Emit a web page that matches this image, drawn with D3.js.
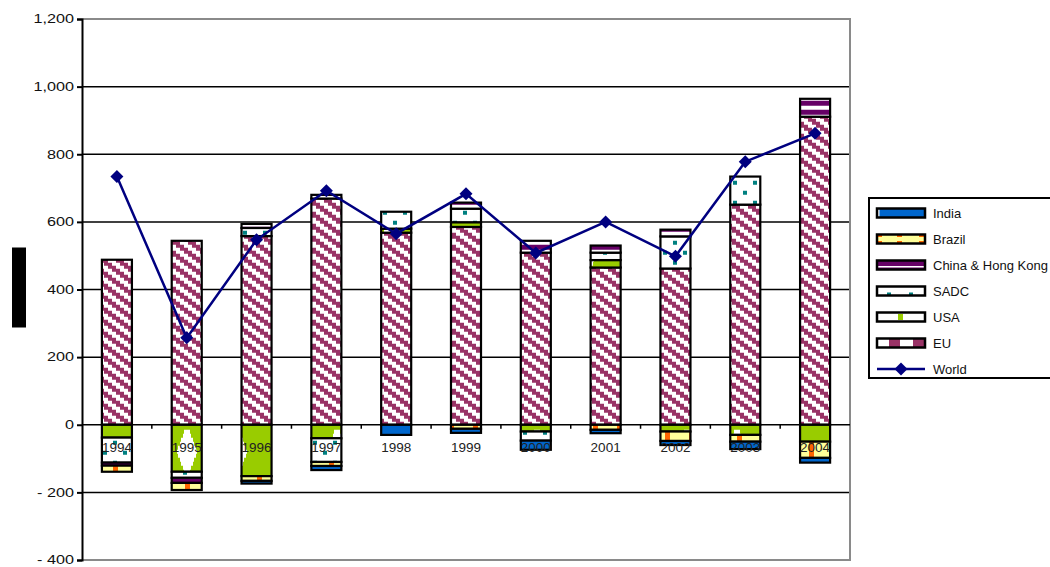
<!DOCTYPE html>
<html>
<head>
<meta charset="utf-8">
<script src="https://cdn.jsdelivr.net/npm/d3@7"></script>
<style>
  html, body { margin: 0; padding: 0; background: #fff; }
  svg { display: block; font-family: "Liberation Sans", Arial, sans-serif; }
</style>
</head>
<body>
<svg id="chart" width="1050" height="567"></svg>
<script>
// Trade balance by partner, 1994–2004
const years = ["1994","1995","1996","1997","1998","1999","2000","2001","2002","2003","2004"];
const seriesNames = ["EU","USA","SADC","China & Hong Kong","Brazil","India"];
const euValues     = [488, 544, 558, 669, 568, 585, 509, 465, 462, 651, 911];
const usaValues    = [-38, -139, -152, -40, 12, 14, -20, 22, -20, -30, -50];
const sadcValues   = [-74, -18, 24, -70, 50, 40, -27, 22, 95, 83, 0];
const chinaValues  = [-9, -15, 12, 11, 0, 18, 35, 21, 20, 0, 53];
const brazilValues = [-18, -21, -14, -12, 0, -12, 0, -15, -28, -20, -48];
const indiaValues  = [0, 0, -8, -12, -30, -12, -27, -10, -12, -22, -14];
const worldValues  = [734, 257, 547, 692, 565, 683, 508, 600, 498, 778, 862];
const yTicks = [-400, -200, 0, 200, 400, 600, 800, 1000, 1200];
const legendNames = ["India","Brazil","China & Hong Kong","SADC","USA","EU","World"];

const svg = d3.select("#chart");
const plotLeft = 82, plotRight = 850, plotTop = 19, plotBottom = 560;

const rows = years.map((yr, i) => ({
  year: yr,
  "EU": euValues[i],
  "USA": usaValues[i],
  "SADC": sadcValues[i],
  "China & Hong Kong": chinaValues[i],
  "Brazil": brazilValues[i],
  "India": indiaValues[i]
}));

const x = d3.scaleBand().domain(years).range([plotLeft, plotRight])
  .paddingInner(0.57).paddingOuter(0.285);
const y = d3.scaleLinear().domain([-400, 1200]).range([plotBottom, plotTop]);

// ---------- fill patterns ----------
const defs = svg.append("defs");
const y0 = y(0);

// EU: purple staircase diagonal stripes
const pEU = defs.append("pattern").attr("id", "pEU").attr("patternUnits", "userSpaceOnUse")
  .attr("width", 16).attr("height", 12).attr("x", 0).attr("y", y0);
pEU.append("rect").attr("width", 16).attr("height", 12).attr("fill", "#fff");
for (let s = 0; s < 4; s++) {
  for (let k = -1; k <= 1; k++) {
    pEU.append("rect").attr("x", s * 4 + k * 16).attr("y", s * 3).attr("width", 8).attr("height", 3)
      .attr("fill", "#993366").attr("shape-rendering", "crispEdges");
  }
}

// USA: green with large white stepped diamonds
const pUSA = defs.append("pattern").attr("id", "pUSA").attr("patternUnits", "userSpaceOnUse")
  .attr("width", 50).attr("height", 50).attr("x", 12).attr("y", y0);
pUSA.append("rect").attr("width", 50).attr("height", 50).attr("fill", "#99CC00");
for (let r = 0; r < 11; r++) {
  const half = Math.min(r, 10 - r) * 1.4 + 3;
  pUSA.append("rect").attr("x", 25 - half).attr("y", 5 + r * 4).attr("width", half * 2).attr("height", 4)
    .attr("fill", "#fff").attr("shape-rendering", "crispEdges");
}

// SADC: white with teal squares
const pSADC = defs.append("pattern").attr("id", "pSADC").attr("patternUnits", "userSpaceOnUse")
  .attr("width", 20).attr("height", 20).attr("x", 0).attr("y", y0);
pSADC.append("rect").attr("width", 20).attr("height", 20).attr("fill", "#fff");
pSADC.append("rect").attr("x", 3).attr("y", 6).attr("width", 4).attr("height", 4).attr("fill", "#008080");
pSADC.append("rect").attr("x", 13).attr("y", 16).attr("width", 4).attr("height", 4).attr("fill", "#008080");

// China & Hong Kong: purple with white bands
const pCHN = defs.append("pattern").attr("id", "pCHN").attr("patternUnits", "userSpaceOnUse")
  .attr("width", 8).attr("height", 9).attr("x", 0).attr("y", y0);
pCHN.append("rect").attr("width", 8).attr("height", 9).attr("fill", "#660066");
pCHN.append("rect").attr("y", 5).attr("width", 8).attr("height", 4).attr("fill", "#fff");

// Brazil: pale yellow with orange blocks
const pBRA = defs.append("pattern").attr("id", "pBRA").attr("patternUnits", "userSpaceOnUse")
  .attr("width", 24).attr("height", 24).attr("x", 0).attr("y", y0);
pBRA.append("rect").attr("width", 24).attr("height", 24).attr("fill", "#FFFF99");
pBRA.append("rect").attr("x", 17).attr("y", 0).attr("width", 5).attr("height", 24).attr("fill", "#FF6600");

const fills = {
  "EU": "url(#pEU)",
  "USA": "url(#pUSA)",
  "SADC": "url(#pSADC)",
  "China & Hong Kong": "url(#pCHN)",
  "Brazil": "url(#pBRA)",
  "India": "#0066CC"
};

// ---------- gridlines ----------
svg.append("g").selectAll("line")
  .data(yTicks.filter(v => v > -400 && v < 1200 && v !== 0))
  .join("line")
  .attr("x1", plotLeft).attr("x2", plotRight)
  .attr("y1", d => y(d)).attr("y2", d => y(d))
  .attr("stroke", "#000").attr("stroke-width", 1.5);

// plot frame (top, right, bottom)
svg.append("path")
  .attr("d", `M${plotLeft},${plotTop} H${plotRight} V${plotBottom} H${plotLeft}`)
  .attr("fill", "none").attr("stroke", "#8a8a8a").attr("stroke-width", 2);

// ---------- stacked bars ----------
const stack = d3.stack().keys(seriesNames).offset(d3.stackOffsetDiverging);
const stacked = stack(rows);

svg.append("g").selectAll("g")
  .data(stacked)
  .join("g")
  .attr("fill", d => fills[d.key])
  .selectAll("rect")
  .data(d => d.filter(s => s[1] !== s[0]))
  .join("rect")
  .attr("x", d => x(d.data.year))
  .attr("width", x.bandwidth())
  .attr("y", d => y(Math.max(d[0], d[1])))
  .attr("height", d => Math.abs(y(d[0]) - y(d[1])))
  .attr("stroke", "#000").attr("stroke-width", 2.2);

// ---------- axes ----------
const fmt = d3.format(",");
const yAxis = svg.append("g").attr("transform", `translate(${plotLeft},0)`)
  .call(d3.axisLeft(y).tickValues(yTicks).tickSize(5).tickPadding(3)
    .tickFormat(v => v < 0 ? "- " + fmt(-v) : fmt(v)));
yAxis.select(".domain").attr("stroke", "#000").attr("stroke-width", 2);
yAxis.selectAll(".tick line").attr("stroke", "#000").attr("stroke-width", 2);
yAxis.selectAll(".tick text")
  .attr("fill", "#111").attr("font-size", 12)
  .attr("font-family", "'Liberation Sans', Arial, sans-serif")
  .attr("x", -8 / 1.35).attr("transform", "scale(1.35,1)");

// zero line with category separators
svg.append("line").attr("x1", plotLeft).attr("x2", plotRight)
  .attr("y1", y0).attr("y2", y0).attr("stroke", "#000").attr("stroke-width", 1.5);
svg.append("g").selectAll("line")
  .data(years.slice(1))
  .join("line")
  .attr("x1", d => x(d) - x.step() * x.paddingInner() / 2)
  .attr("x2", d => x(d) - x.step() * x.paddingInner() / 2)
  .attr("y1", y0).attr("y2", y0 + 4)
  .attr("stroke", "#000").attr("stroke-width", 1.5);

// category labels
svg.append("g").selectAll("text")
  .data(years)
  .join("text")
  .attr("x", d => x(d) + x.bandwidth() / 2)
  .attr("y", y0 + 27)
  .attr("text-anchor", "middle")
  .attr("font-size", 13.5)
  .attr("fill", "#222")
  .text(d => d);

// ---------- World line ----------
const line = d3.line()
  .x((d, i) => x(years[i]) + x.bandwidth() / 2)
  .y(d => y(d));
svg.append("path").datum(worldValues)
  .attr("d", line)
  .attr("fill", "none").attr("stroke", "#000080").attr("stroke-width", 2.5);
const diamond = "M0,-6.5 L6.5,0 L0,6.5 L-6.5,0 Z";
svg.append("g").selectAll("path")
  .data(worldValues)
  .join("path")
  .attr("transform", (d, i) => `translate(${x(years[i]) + x.bandwidth() / 2},${y(d)})`)
  .attr("d", diamond)
  .attr("fill", "#000080");

// ---------- y-axis title ----------
const titleG = svg.append("g").attr("transform", `translate(19,${(248 + 327) / 2}) rotate(-90)`);
titleG.append("rect").attr("x", -40).attr("y", -7).attr("width", 80).attr("height", 14).attr("fill", "#000");
titleG.append("text").attr("text-anchor", "middle").attr("dy", "0.35em")
  .attr("font-size", 12).attr("fill", "#000").text("US$ million");

// ---------- legend ----------
const lg = svg.append("g");
lg.append("rect").attr("x", 869).attr("y", 198).attr("width", 200).attr("height", 180)
  .attr("fill", "#fff").attr("stroke", "#000").attr("stroke-width", 2);

const legendY = d3.scalePoint().domain(legendNames).range([213, 369]);
const sx = 877, sw = 48, sh = 9;

legendNames.forEach(name => {
  const cy = legendY(name);
  const g = lg.append("g");
  if (name === "World") {
    g.append("line").attr("x1", sx).attr("x2", sx + sw).attr("y1", cy).attr("y2", cy)
      .attr("stroke", "#000080").attr("stroke-width", 2.5);
    g.append("path").attr("transform", `translate(${sx + sw / 2},${cy})`).attr("d", diamond).attr("fill", "#000080");
  } else {
    const bx = sx, by = cy - sh / 2;
    const base = { "India": "#0066CC", "Brazil": "#FFFF99", "China & Hong Kong": "#660066",
                   "SADC": "#fff", "USA": "#fff", "EU": "#fff" }[name];
    g.append("rect").attr("x", bx).attr("y", by).attr("width", sw).attr("height", sh).attr("fill", base);
    if (name === "India") {
      g.append("rect").attr("x", bx + 1).attr("y", by).attr("width", 1.5).attr("height", sh).attr("fill", "#fff");
    } else if (name === "Brazil") {
      [0, 20, 42].forEach(o => {
        g.append("rect").attr("x", bx + o).attr("y", by).attr("width", 5).attr("height", 2.5).attr("fill", "#FF6600");
        g.append("rect").attr("x", bx + o).attr("y", by + sh - 2.5).attr("width", 5).attr("height", 2.5).attr("fill", "#FF6600");
      });
    } else if (name === "China & Hong Kong") {
      g.append("rect").attr("x", bx).attr("y", cy + 1).attr("width", sw).attr("height", 1.5).attr("fill", "#fff");
    } else if (name === "SADC") {
      [10, 32].forEach(o => g.append("rect").attr("x", bx + o).attr("y", by + sh - 3)
        .attr("width", 4).attr("height", 3).attr("fill", "#008080"));
    } else if (name === "USA") {
      g.append("rect").attr("x", bx + 21).attr("y", by + 1.5).attr("width", 5).attr("height", sh - 3).attr("fill", "#99CC00");
    } else if (name === "EU") {
      [12, 36].forEach(o => g.append("rect").attr("x", bx + o).attr("y", by)
        .attr("width", 11).attr("height", sh).attr("fill", "#993366"));
    }
    g.append("rect").attr("x", bx).attr("y", by).attr("width", sw).attr("height", sh)
      .attr("fill", "none").attr("stroke", "#000").attr("stroke-width", 2.5);
  }
  lg.append("text").attr("x", 933).attr("y", cy).attr("dy", "0.36em")
    .attr("font-size", 13).attr("fill", "#111").text(name);
});
</script>
</body>
</html>
